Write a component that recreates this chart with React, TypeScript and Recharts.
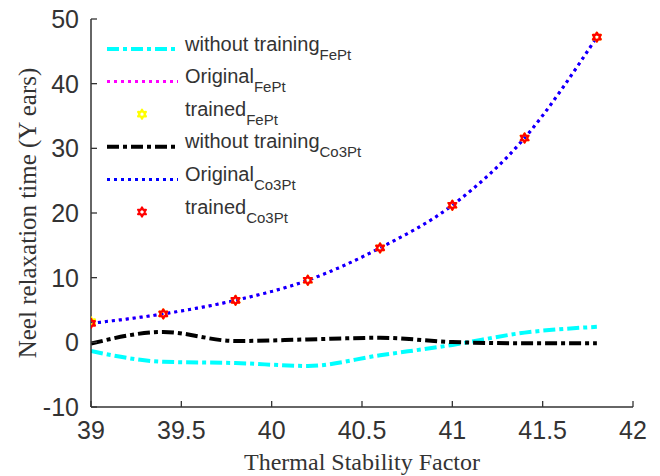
import React from 'react';
import { LineChart, Line, XAxis, YAxis, Legend, Label } from 'recharts';

// ---- data ----
const thermal = [39, 39.4, 39.8, 40.2, 40.6, 41, 41.4, 41.8];
const withoutFePt = [-1.35, -3.0, -3.2, -3.65, -2.0, -0.4, 1.5, 2.4];
const originalFePt = [2.94, 4.4, 6.5, 9.6, 14.6, 21.2, 31.6, 47.2];
const trainedFePt = [3.2, 4.4, 6.5, 9.6, 14.6, 21.2, 31.6, 47.2];
const withoutCo3Pt = [-0.2, 1.6, 0.2, 0.45, 0.7, 0.05, -0.15, -0.15];
const originalCo3Pt = [2.94, 4.4, 6.5, 9.6, 14.6, 21.2, 31.6, 47.2];
const trainedCo3Pt = [2.94, 4.4, 6.5, 9.6, 14.6, 21.2, 31.6, 47.2];

const xTicks = [39, 39.5, 40, 40.5, 41, 41.5, 42];
const yTicks = [-10, 0, 10, 20, 30, 40, 50];
const xDomain = [39, 42];
const yDomain = [-10, 50];

const xTitle = 'Thermal Stability Factor';
const yTitle = 'Neel relaxation time (Y ears)';

const data = thermal.map((t, i) => ({
  t,
  withoutFePt: withoutFePt[i],
  originalFePt: originalFePt[i],
  trainedFePt: trainedFePt[i],
  withoutCo3Pt: withoutCo3Pt[i],
  originalCo3Pt: originalCo3Pt[i],
  trainedCo3Pt: trainedCo3Pt[i],
}));

// ---- styling ----
const AXIS = '#333333';
const TEXT = '#333333';
const SANS = '"Liberation Sans", Arial, Helvetica, sans-serif';
const SERIF = '"Liberation Serif", "Times New Roman", Times, serif';
const DASHDOT = '12 4 4 4';
const DOTTED = '3 4';

type SeriesCfg = {
  key: string;
  main: string;
  sub: string;
  color: string;
  kind: 'dashdot' | 'dotted' | 'marker';
};

const series: SeriesCfg[] = [
  { key: 'withoutFePt', main: 'without training', sub: 'FePt', color: '#00ffff', kind: 'dashdot' },
  { key: 'originalFePt', main: 'Original', sub: 'FePt', color: '#ff00ff', kind: 'dotted' },
  { key: 'trainedFePt', main: 'trained', sub: 'FePt', color: '#ffff00', kind: 'marker' },
  { key: 'withoutCo3Pt', main: 'without training', sub: 'Co3Pt', color: '#000000', kind: 'dashdot' },
  { key: 'originalCo3Pt', main: 'Original', sub: 'Co3Pt', color: '#0000ff', kind: 'dotted' },
  { key: 'trainedCo3Pt', main: 'trained', sub: 'Co3Pt', color: '#ff0000', kind: 'marker' },
];

function hexPoints(cx: number, cy: number, r: number) {
  const pts: string[] = [];
  for (let k = 0; k < 12; k++) {
    const ang = (-90 + k * 30) * Math.PI / 180;
    const rr = k % 2 === 0 ? r : r * 0.55;
    pts.push(`${cx + rr * Math.cos(ang)},${cy + rr * Math.sin(ang)}`);
  }
  return pts.join(' ');
}

function Hexagram({ cx, cy, color }: { cx: number; cy: number; color: string }) {
  if (cx == null || cy == null) return null;
  return (
    <polygon
      points={hexPoints(cx, cy, 4.5)}
      fill="none"
      stroke={color}
      strokeWidth={2.2}
      strokeLinejoin="round"
    />
  );
}

function BottomTick(props: any) {
  const { x, y, payload } = props;
  return (
    <g>
      <line x1={x} x2={x} y1={y} y2={y - 6} stroke={AXIS} strokeWidth={1.3} />
      <text x={x} y={y + 23} textAnchor="middle" dominantBaseline="central"
        fontSize={25} fontFamily={SANS} fill={TEXT}>{String(payload.value)}</text>
    </g>
  );
}
function TopTick(props: any) {
  const { x, y } = props;
  return <line x1={x} x2={x} y1={y} y2={y + 6} stroke={AXIS} strokeWidth={1.3} />;
}
function LeftTick(props: any) {
  const { x, y, payload } = props;
  return (
    <g>
      <line x1={x} x2={x + 6} y1={y} y2={y} stroke={AXIS} strokeWidth={1.3} />
      <text x={x - 12} y={y} textAnchor="end" dominantBaseline="central"
        fontSize={25} fontFamily={SANS} fill={TEXT}>{String(payload.value)}</text>
    </g>
  );
}
function RightTick(props: any) {
  const { x, y } = props;
  return <line x1={x} x2={x - 6} y1={y} y2={y} stroke={AXIS} strokeWidth={1.3} />;
}

function LegendBox() {
  const rowY0 = 24;
  const step = 32.6;
  return (
    <svg width={280} height={210} style={{ display: 'block', overflow: 'visible' }}>
      {series.map((s, i) => {
        const y = rowY0 + i * step;
        return (
          <g key={s.key}>
            {s.kind === 'marker' ? (
              <Hexagram cx={42} cy={y} color={s.color} />
            ) : (
              <line x1={7} x2={78} y1={y} y2={y} stroke={s.color}
                strokeWidth={s.kind === 'dashdot' ? 4 : 3}
                strokeDasharray={s.kind === 'dashdot' ? DASHDOT : DOTTED} />
            )}
            <text x={85} y={y + 1.5} fontSize={20} fontFamily={SANS} fill={TEXT}>
              {s.main}
              <tspan fontSize={15} dy={9}>{s.sub}</tspan>
            </text>
          </g>
        );
      })}
    </svg>
  );
}

export default function App() {
  return (
    <div style={{ position: 'absolute', left: 0, top: 0, width: 660, height: 476, background: '#fff' }}>
      <LineChart width={660} height={476} data={data}
        margin={{ top: 19, right: 27, bottom: 0, left: 0 }}>
        <XAxis dataKey="t" type="number" domain={xDomain} ticks={xTicks}
          allowDataOverflow height={69} tickSize={0} tickMargin={0} tickLine={false}
          tick={<BottomTick />} axisLine={{ stroke: AXIS, strokeWidth: 1.5 }} interval={0}>
          <Label content={(p: any) => {
            const vb = p.viewBox || {};
            return (
              <text x={vb.x + vb.width / 2} y={vb.y + 63} textAnchor="middle"
                fontSize={24} fontFamily={SERIF} fill={TEXT}>{xTitle}</text>
            );
          }} />
        </XAxis>
        <XAxis xAxisId="top" orientation="top" dataKey="t" type="number" domain={xDomain}
          ticks={xTicks} allowDataOverflow height={0} tickSize={0} tickMargin={0} tickLine={false}
          tick={<TopTick />} axisLine={{ stroke: AXIS, strokeWidth: 1.5 }} interval={0} />
        <YAxis type="number" domain={yDomain} ticks={yTicks} allowDataOverflow width={91}
          tickSize={0} tickMargin={0} tickLine={false} tick={<LeftTick />}
          axisLine={{ stroke: AXIS, strokeWidth: 1.5 }} interval={0}>
          <Label content={(p: any) => {
            const vb = p.viewBox || {};
            const cx = vb.x + 36;
            const cy = vb.y + vb.height / 2;
            return (
              <text x={cx} y={cy} textAnchor="middle" transform={`rotate(-90, ${cx}, ${cy})`}
                fontSize={25} fontFamily={SERIF} fill={TEXT}>{yTitle}</text>
            );
          }} />
        </YAxis>
        <YAxis yAxisId="right" orientation="right" type="number" domain={yDomain} ticks={yTicks}
          allowDataOverflow width={0} tickSize={0} tickMargin={0} tickLine={false}
          tick={<RightTick />} axisLine={{ stroke: AXIS, strokeWidth: 1.5 }} interval={0} />
        <Legend layout="vertical" align="center" verticalAlign="middle"
          wrapperStyle={{ position: 'absolute', left: 100, top: 25, width: 280, height: 210 }}
          content={() => <LegendBox />} />
        {series.map((s) =>
          s.kind === 'marker' ? (
            <Line key={s.key} dataKey={s.key} stroke="none" isAnimationActive={false}
              activeDot={false} legendType="none"
              dot={(p: any) => <Hexagram key={`${s.key}-${p.index}`} cx={p.cx} cy={p.cy} color={s.color} />} />
          ) : (
            <Line key={s.key} dataKey={s.key} type="monotone" stroke={s.color}
              strokeWidth={s.kind === 'dashdot' ? 4 : 3}
              strokeDasharray={s.kind === 'dashdot' ? DASHDOT : DOTTED}
              dot={false} activeDot={false} isAnimationActive={false} />
          )
        )}
      </LineChart>
    </div>
  );
}
